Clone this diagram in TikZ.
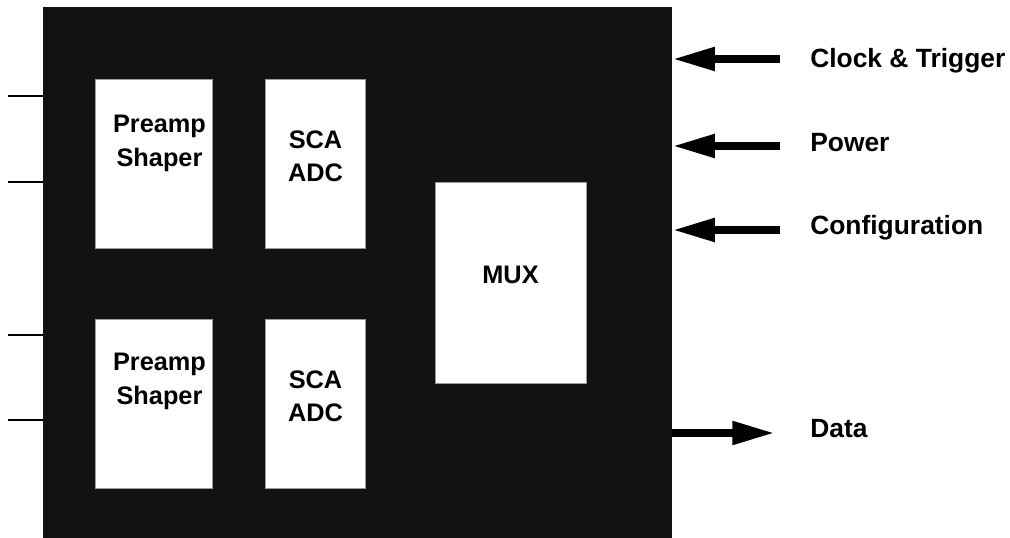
\documentclass[tikz,border=0pt]{standalone}
\usepackage{fontspec}
\setmainfont{Liberation Sans}
\usepackage{tikz}
\usetikzlibrary{arrows.meta,positioning}
\definecolor{Die}{HTML}{121212}
\definecolor{Ink}{HTML}{000000}
\definecolor{Edge}{HTML}{9A9A9A}
\tikzset{
  block/.style={fill=white,draw=Edge,line width=0.4pt,inner sep=0pt,minimum width=87.75pt,minimum height=126.75pt},
  tag/.style={font=\fontsize{19}{25}\selectfont\bfseries,align=center,inner sep=0pt},
  side/.style={font=\fontsize{19.8}{23}\selectfont\bfseries,anchor=base west,inner sep=0pt},
  pin/.style={line width=2pt,draw=Ink},
  bus/.style={-{Triangle[length=32pt,width=16.5pt]},line width=6pt,draw=Ink}
}
\begin{document}
\begin{tikzpicture}[x=0.75pt,y=-0.75pt,node distance=39.75pt]
  \useasboundingbox (0,0) rectangle (1010,538);
  \node[fill=Die,inner sep=0pt,minimum width=471.75pt,minimum height=398.25pt] (chip) at (357.5,272.5) {};

  \node[block] (pre1) at (153.5,163.5) {};
  \node[block,minimum width=75pt,right=of pre1] (sca1) {};
  \node[block,below=53.25pt of pre1] (pre2) {};
  \node[block,minimum width=75pt,right=of pre2] (sca2) {};
  \node[block,minimum width=113.25pt,minimum height=150.75pt] (mux) at (510.5,282.5) {};

  \node[tag] (pre1txt) at ([xshift=4.5pt,yshift=15pt]pre1.center) {Preamp\\Shaper};
  \node[tag] (sca1txt) at ([yshift=5.6pt]sca1.center) {SCA\\ADC};
  \node[tag] (pre2txt) at ([xshift=4.5pt,yshift=17pt]pre2.center) {Preamp\\Shaper};
  \node[tag] (sca2txt) at ([yshift=5.6pt]sca2.center) {SCA\\ADC};
  \node[tag] (muxtxt) at ([yshift=5.6pt]mux.center) {MUX};

  \node[side] (clk) at (810,68) {Clock \& Trigger};
  \node[side] (pwr) at (810,152) {Power};
  \node[side] (cfg) at (810,235) {Configuration};
  \node[side] (dat) at (810,437) {Data};

  \foreach \y [count=\i] in {96,182,335,420}{
    \coordinate (pin\i) at (8,\y);
    \draw[pin] (pin\i) -- (pin\i -| chip.west);
  }
  \foreach \n/\y in {clk/59,pwr/146,cfg/230}{
    \coordinate (\n-in) at (780,\y);
    \draw[bus] (\n-in) -- (\n-in -| chip.east);
  }
  \coordinate (dat-out) at (775,433);
  \draw[bus] (dat-out -| chip.east) -- (dat-out);
\end{tikzpicture}
\end{document}
